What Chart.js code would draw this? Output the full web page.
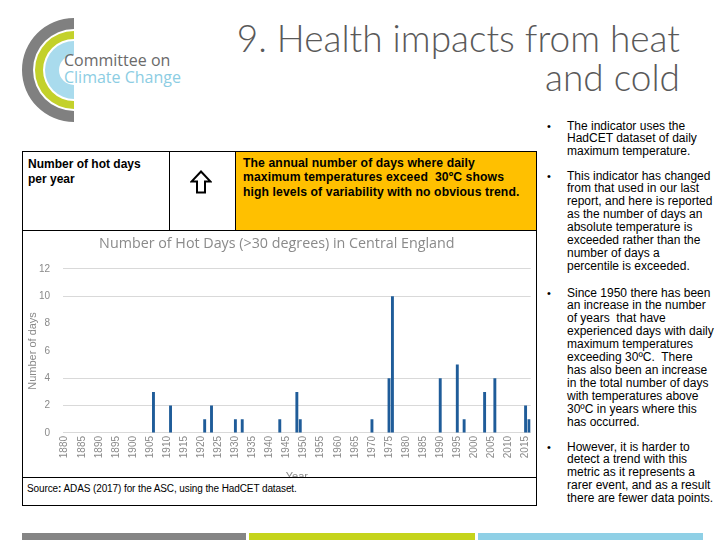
<!DOCTYPE html>
<html>
<head>
<meta charset="utf-8">
<script src="https://cdn.jsdelivr.net/npm/chart.js@4.4.1/dist/chart.umd.min.js"></script>
<style>
  html, body { margin:0; padding:0; background:#fff; }
  #page { position:relative; width:720px; height:540px; overflow:hidden; font-family:'Liberation Sans', Arial, sans-serif; }
  .abs { position:absolute; }
  .title { right:40px; text-align:right; font-family:'Lato','Open Sans',sans-serif; font-weight:300; font-size:37px; color:#595959; white-space:nowrap; line-height:39px; }
  .hdr { font-weight:bold; font-size:12px; line-height:15px; color:#000; white-space:nowrap; }
  .bul { font-size:12px; line-height:12.9px; color:#000; white-space:pre; }
  .dot { position:absolute; left:-20px; top:0; font-size:11px; }
  .line { position:absolute; background:#000; }
</style>
</head>
<body>
<div id="page">
  <!-- logo -->
  <svg class="abs" style="left:0;top:0" width="200" height="130">
    <path d="M74 18 A52 52 0 0 0 74 122 L74 111 A41 41 0 0 1 74 29 Z" fill="#808080"/>
    <path d="M74 31 A39 39 0 0 0 74 109 L74 101 A31 31 0 0 1 74 39 Z" fill="#c3d12b"/>
    <path d="M74 41 A29 29 0 0 0 74 99 L74 85 A15 15 0 0 1 74 55 Z" fill="#a9dbed"/>
  </svg>
  <div class="abs" style="left:64px;top:52px;font-family:'Open Sans',sans-serif;font-size:16px;line-height:17px;color:#6a6a6a;white-space:nowrap;">Committee on</div>
  <div class="abs" style="left:64px;top:69px;font-family:'Open Sans',sans-serif;font-size:16px;line-height:17px;color:#8ccde3;white-space:nowrap;">Climate Change</div>

  <div class="abs title" style="top:18px;">9. Health impacts from heat</div>
  <div class="abs title" style="top:57px;">and cold</div>

  <!-- table frame -->
  <div class="abs" style="left:235px;top:151px;width:301px;height:79px;background:#ffc000;"></div>
  <div class="line" style="left:22px;top:151px;width:515px;height:1px;"></div>
  <div class="line" style="left:22px;top:230px;width:515px;height:1px;"></div>
  <div class="line" style="left:22px;top:477px;width:515px;height:1px;"></div>
  <div class="line" style="left:22px;top:505px;width:515px;height:1px;"></div>
  <div class="line" style="left:22px;top:151px;width:1px;height:355px;"></div>
  <div class="line" style="left:536px;top:151px;width:1px;height:355px;"></div>
  <div class="line" style="left:169px;top:151px;width:1px;height:80px;"></div>
  <div class="line" style="left:235px;top:151px;width:1px;height:80px;"></div>

  <div class="abs hdr" style="left:28px;top:157px;">Number of hot days<br>per year</div>
  <svg class="abs" style="left:190px;top:170px" width="22" height="24">
    <path d="M11 1.5 L20.5 11.5 L15 11.5 L15 22.5 L7 22.5 L7 11.5 L1.5 11.5 Z" fill="#fff" stroke="#000" stroke-width="2" stroke-linejoin="miter"/>
  </svg>
  <div class="abs hdr" style="left:243px;top:156px;font-size:12.2px;line-height:14.4px;letter-spacing:0.1px;">The annual number of days where daily<br>maximum temperatures exceed&nbsp; 30ºC shows<br>high levels of variability with no obvious trend.</div>

  <!-- chart -->
  <div class="abs" style="left:23px;top:231px;width:513px;height:246px;overflow:hidden;">
    <canvas id="c" width="513" height="262" style="display:block;width:513px;height:262px;"></canvas>
  </div>

  <div class="abs" style="left:27px;top:482px;font-size:10px;line-height:14px;white-space:nowrap;letter-spacing:-0.1px;">Source<b>:</b> ADAS (2017) for the ASC, using the HadCET dataset.</div>

  <!-- bullets -->
  <div class="abs bul" style="left:567px;top:119.5px;"><span class="dot">•</span>The indicator uses the
HadCET dataset of daily
maximum temperature.</div>
  <div class="abs bul" style="left:567px;top:169.5px;"><span class="dot">•</span>This indicator has changed
from that used in our last
report, and here is reported
as the number of days an
absolute temperature is
exceeded rather than the
number of days a
percentile is exceeded.</div>
  <div class="abs bul" style="left:567px;top:286.5px;"><span class="dot">•</span>Since 1950 there has been
an increase in the number
of years  that have
experienced days with daily
maximum temperatures
exceeding 30ºC.  There
has also been an increase
in the total number of days
with temperatures above
30ºC in years where this
has occurred.</div>
  <div class="abs bul" style="left:567px;top:440.5px;"><span class="dot">•</span>However, it is harder to
detect a trend with this
metric as it represents a
rarer event, and as a result
there are fewer data points.</div>

  <!-- bottom colour bars -->
  <div class="abs" style="left:22px;top:533px;width:224px;height:7px;background:#858585;"></div>
  <div class="abs" style="left:249px;top:533px;width:226px;height:7px;background:#c5d41b;"></div>
  <div class="abs" style="left:478px;top:533px;width:225px;height:7px;background:#8fd0e6;"></div>
</div>

<script>
// ---- data ----
const firstYear = 1880;
const lastYear = 2016;
const hotYears = [1906, 1911, 1921, 1923, 1930, 1932, 1943, 1948, 1949, 1970, 1975, 1976, 1990, 1995, 1997, 2003, 2006, 2015, 2016];
const hotDays  = [3,    2,    1,    2,    1,    1,    1,    3,    1,    1,    4,    10,   4,    5,    1,    3,    4,    2,    1];
const yTickValues = [0, 2, 4, 6, 8, 10, 12];
const hiddenGridValues = [6, 8];
const chartTitle = 'Number of Hot Days (>30 degrees) in Central England';
const xTitle = 'Year';
const yTitle = 'Number of days';

// build the category table
const years = [];
const values = [];
for (let y = firstYear; y <= lastYear; y++) {
  years.push(String(y));
  const k = hotYears.indexOf(y);
  values.push(k >= 0 ? hotDays[k] : 0);
}

const grey = '#8a8a8a';
new Chart(document.getElementById('c'), {
  type: 'bar',
  data: {
    labels: years,
    datasets: [{
      data: values,
      backgroundColor: '#1f5c99',
      barPercentage: 0.85,
      categoryPercentage: 1.0
    }]
  },
  options: {
    responsive: false,
    animation: false,
    layout: { padding: { left: 0, right: 5.3, top: 0, bottom: 9.6 } },
    plugins: {
      legend: { display: false },
      tooltip: { enabled: false },
      title: {
        display: true, text: chartTitle, color: grey,
        font: { family: "'Open Sans', sans-serif", size: 14.3, weight: 'normal' },
        padding: { top: 4.5, bottom: 16.3 }
      }
    },
    scales: {
      x: {
        grid: { display: false, drawTicks: false },
        border: { display: false },
        afterFit: (s) => { s.paddingLeft = 0; s.paddingRight = 0; },
        ticks: {
          autoSkip: false, minRotation: 90, maxRotation: 90, padding: 3,
          color: grey, font: { family: "'Liberation Sans', sans-serif", size: 10 },
          callback: (v, i) => (Number(years[i]) % 5 === 0 ? years[i] : '')
        },
        title: { display: true, text: xTitle, color: grey, font: { family: "'Liberation Sans', sans-serif", size: 11 }, padding: { top: 9, bottom: 0 } }
      },
      y: {
        min: 0, max: 12,
        afterBuildTicks: (s) => { s.ticks = yTickValues.map(v => ({ value: v })); },
        afterFit: (s) => { s.width = 40; s.paddingTop = 0; s.paddingBottom = 0; },
        grid: {
          drawTicks: false,
          color: (ctx) => (ctx.tick && hiddenGridValues.includes(ctx.tick.value) ? 'rgba(0,0,0,0)' : '#d9d9d9')
        },
        border: { display: false },
        ticks: { padding: 13, color: grey, font: { family: "'Liberation Sans', sans-serif", size: 10 } },
        title: { display: true, text: yTitle, color: grey, font: { family: "'Liberation Sans', sans-serif", size: 11 }, padding: { top: 3, bottom: 0 } }
      }
    }
  }
});
</script>
</body>
</html>
